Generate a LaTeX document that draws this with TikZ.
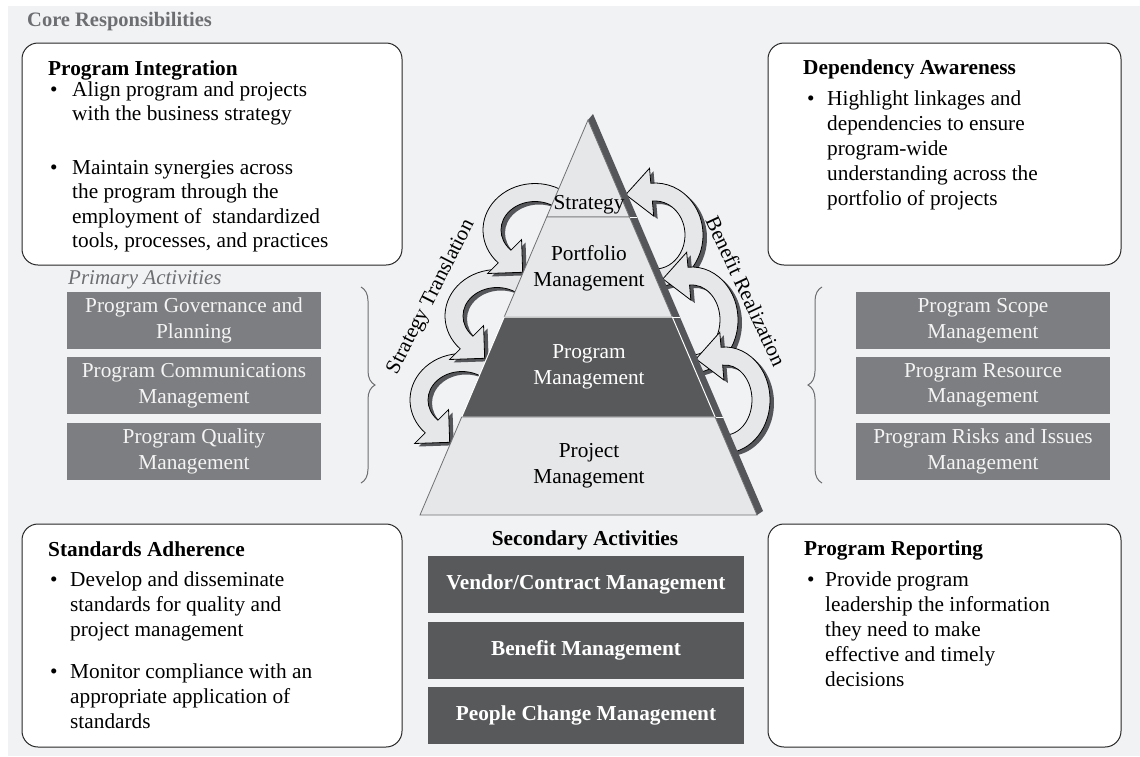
\documentclass[tikz,border=0pt]{standalone}
\usepackage{fontspec}
\setmainfont{Liberation Serif}
\usetikzlibrary{decorations.pathreplacing}
\definecolor{bgc}{HTML}{F1F2F4}
\definecolor{labgray}{HTML}{6D6E71}
\definecolor{graybox}{HTML}{7D7E81}
\definecolor{darkbox}{HTML}{58595B}
\definecolor{boxtext}{HTML}{F4F4F4}
\definecolor{lightlayer}{HTML}{E6E7E9}
\definecolor{layerline}{HTML}{707173}
\definecolor{shadowc}{HTML}{55565A}
\newcommand{\plines}[1]{\parbox[t]{340pt}{\raggedright #1}}
\newcommand{\blockarc}[9]{%
 \pgfmathsetmacro\bRox{#3+#7}\pgfmathsetmacro\bRoy{#4+#7}%
 \pgfmathsetmacro\bRix{#3-#7}\pgfmathsetmacro\bRiy{#4-#7}%
 \pgfmathsetmacro\bAx{#1+\bRox*cos(#5)}\pgfmathsetmacro\bAy{#2+\bRoy*sin(#5)}%
 \pgfmathsetmacro\bWox{#1+(#3+#8)*cos(#6)}\pgfmathsetmacro\bWoy{#2+(#4+#8)*sin(#6)}%
 \pgfmathsetmacro\bWix{#1+(#3-#8)*cos(#6)}\pgfmathsetmacro\bWiy{#2+(#4-#8)*sin(#6)}%
 \pgfmathsetmacro\bBix{#1+\bRix*cos(#6)}\pgfmathsetmacro\bBiy{#2+\bRiy*sin(#6)}%
 \pgfmathsetmacro\bTx{-#3*sin(#6)}\pgfmathsetmacro\bTy{#4*cos(#6)}%
 \pgfmathsetmacro\bTn{sqrt(\bTx*\bTx+\bTy*\bTy)}%
 \pgfmathsetmacro\bPx{#1+#3*cos(#6)+#9*\bTx/\bTn}%
 \pgfmathsetmacro\bPy{#2+#4*sin(#6)+#9*\bTy/\bTn}%
 \fill[shadowc, shift={(4,-3)}] (\bAx,\bAy) arc[start angle=#5, end angle=#6, x radius=\bRox, y radius=\bRoy] -- (\bWox,\bWoy) -- (\bPx,\bPy) -- (\bWix,\bWiy) -- (\bBix,\bBiy) arc[start angle=#6, end angle=#5, x radius=\bRix, y radius=\bRiy] -- cycle;
 \filldraw[fill=lightlayer, draw=black, line width=0.8pt, line join=miter] (\bAx,\bAy) arc[start angle=#5, end angle=#6, x radius=\bRox, y radius=\bRoy] -- (\bWox,\bWoy) -- (\bPx,\bPy) -- (\bWix,\bWiy) -- (\bBix,\bBiy) arc[start angle=#6, end angle=#5, x radius=\bRix, y radius=\bRiy] -- cycle;
}
\begin{document}
\begin{tikzpicture}[x=1pt,y=1pt,
  wbox/.style={draw=black!85, line width=1pt, fill=white, rounded corners=16pt, inner sep=0pt},
  gbox/.style={fill=graybox, text=boxtext, minimum width=254pt, minimum height=57pt, align=center, inner sep=0pt, font=\fontsize{21.3}{25.5}\selectfont},
  dbox/.style={fill=darkbox, text=white, minimum width=316pt, minimum height=57pt, inner sep=0pt, font=\bfseries\fontsize{21.3}{24}\selectfont},
  ttl/.style={anchor=base west, inner sep=0pt, font=\bfseries\fontsize{21.3}{24}\selectfont},
  btxt/.style={anchor=base west, inner sep=0pt, font=\fontsize{21.3}{24.6}\selectfont},
  btxtw/.style={anchor=base west, inner sep=0pt, font=\fontsize{21.3}{25}\selectfont},
  pyrtxt/.style={align=center, inner sep=0pt, font=\fontsize{21.3}{26}\selectfont},
  lightlay/.style={fill=lightlayer, draw=layerline, line width=0.8pt},
  darklay/.style={fill=darkbox, draw=white, line width=1pt},
  bracest/.style={draw=labgray, line width=1pt, decorate, decoration={brace, amplitude=14pt}}
]
\useasboundingbox (0,0) rectangle (1140,-756);
\fill[bgc] (8,-6) rectangle (1140,-756);

\node[anchor=west, inner sep=0pt, text=labgray, font=\bfseries\fontsize{20.5}{24}\selectfont] (core) at (27,-22) {Core Responsibilities};

% white boxes
\node[wbox, minimum width=380pt, minimum height=222pt] (boxPI) at (212,-154) {};
\node[wbox, minimum width=353pt, minimum height=222pt] (boxDA) at (944.5,-154) {};
\node[wbox, minimum width=380pt, minimum height=223pt] (boxSA) at (212,-635.5) {};
\node[wbox, minimum width=353pt, minimum height=223pt] (boxPR) at (944.5,-635.5) {};

% Program Integration
\node[ttl] (piT) at (48,-75) {Program Integration};
\node[btxt] (piB1) at (50,-96) {\textbullet};
\node[btxt] (piL1) at (72,-96) {\plines{Align program and projects\\with the business strategy}};
\node[btxt] (piB2) at (50,-174) {\textbullet};
\node[btxt] (piL2) at (72,-174) {\plines{Maintain synergies across\\the program through the\\employment of \ standardized\\tools, processes, and practices}};

% Dependency Awareness
\node[ttl] (daT) at (803,-74) {Dependency Awareness};
\node[btxt] (daB1) at (807,-105) {\textbullet};
\node[btxtw] (daL1) at (827,-105) {\plines{Highlight linkages and\\dependencies to ensure\\program-wide\\understanding across the\\portfolio of projects}};

% Standards Adherence
\node[ttl] (saT) at (48,-556) {Standards Adherence};
\node[btxt] (saB1) at (50,-586) {\textbullet};
\node[btxtw] (saL1) at (70,-586) {\plines{Develop and disseminate\\standards for quality and\\project management}};
\node[btxt] (saB2) at (50,-678) {\textbullet};
\node[btxtw] (saL2) at (70,-678) {\plines{Monitor compliance with an\\appropriate application of\\standards}};

% Program Reporting
\node[ttl] (prT) at (804,-555) {Program Reporting};
\node[btxt] (prB1) at (807,-586) {\textbullet};
\node[btxtw] (prL1) at (825,-586) {\plines{Provide program\\leadership the information\\they need to make\\effective and timely\\decisions}};

% Primary activities
\node[anchor=west, inner sep=0pt, text=labgray, font=\itshape\fontsize{21}{24}\selectfont] (prim) at (68,-280) {Primary Activities};
\node[gbox] (g1) at (194,-320.5) {Program Governance and\\Planning};
\node[gbox] (g2) at (194,-385.5) {Program Communications\\Management};
\node[gbox] (g3) at (194,-451.5) {Program Quality\\Management};
\node[gbox] (g4) at (983,-320.5) {Program Scope\\Management};
\node[gbox] (g5) at (983,-385.5) {Program Resource\\Management};
\node[gbox] (g6) at (983,-451.5) {Program Risks and Issues\\Management};

% braces
\coordinate (lbA) at (361,-287);
\coordinate (lbB) at (361,-483);
\coordinate (rbA) at (822,-483);
\coordinate (rbB) at (822,-287);
\draw[bracest] (lbA) -- (lbB);
\draw[bracest] (rbA) -- (rbB);

% Secondary activities
\node[inner sep=0pt, font=\bfseries\fontsize{21.3}{24}\selectfont] (sec) at (585,-540) {Secondary Activities};
\node[dbox] (d1) at (586,-584.5) {Vendor/Contract Management};
\node[dbox] (d2) at (586,-650.5) {Benefit Management};
\node[dbox] (d3) at (586,-715) {People Change Management};

% curved arrows (right: benefit realization)
\blockarc{655}{-235}{39}{43}{-110}{95}{9}{24}{26}
\blockarc{692}{-320}{37}{44}{-110}{95}{9}{24}{26}
\blockarc{725}{-400}{36}{44}{-110}{95}{9}{24}{26}
% left: strategy translation
\blockarc{462}{-400}{43}{37.5}{50}{225}{9}{24}{24}
\blockarc{497}{-316}{43}{37.5}{50}{225}{9}{24}{24}
\blockarc{535}{-230}{43}{37.5}{50}{225}{9}{24}{24}

% pyramid
\fill[shadowc] (588,-120) -- (593,-114) -- (763,-511) -- (757,-515) -- cycle;
\filldraw[lightlay] (588,-120) -- (629.5,-217) -- (546.7,-217) -- cycle;
\filldraw[lightlay] (546.7,-217) -- (629.5,-217) -- (672.3,-317) -- (504.2,-317) -- cycle;
\filldraw[darklay] (504.2,-317) -- (672.3,-317) -- (715.1,-417) -- (461.7,-417) -- cycle;
\filldraw[lightlay] (461.7,-417) -- (715.1,-417) -- (757,-515) -- (420,-515) -- cycle;
\draw[white, line width=1pt] (630,-217) -- (637,-217);
\draw[white, line width=1pt] (673,-317) -- (680,-317);
\draw[white, line width=1pt] (716,-417) -- (723,-417);

\node[pyrtxt] (pS) at (589,-205) {Strategy};
\node[pyrtxt] (pP) at (589,-268) {Portfolio\\Management};
\node[pyrtxt, text=white] (pG) at (589,-367) {Program\\Management};
\node[pyrtxt] (pJ) at (589,-466) {Project\\Management};

\node[rotate=63, inner sep=0pt, font=\fontsize{21}{24}\selectfont] (stl) at (431,-297) {Strategy Translation};
\node[rotate=-65, inner sep=0pt, font=\fontsize{21}{24}\selectfont] (brl) at (746,-291) {Benefit Realization};
\end{tikzpicture}
\end{document}
